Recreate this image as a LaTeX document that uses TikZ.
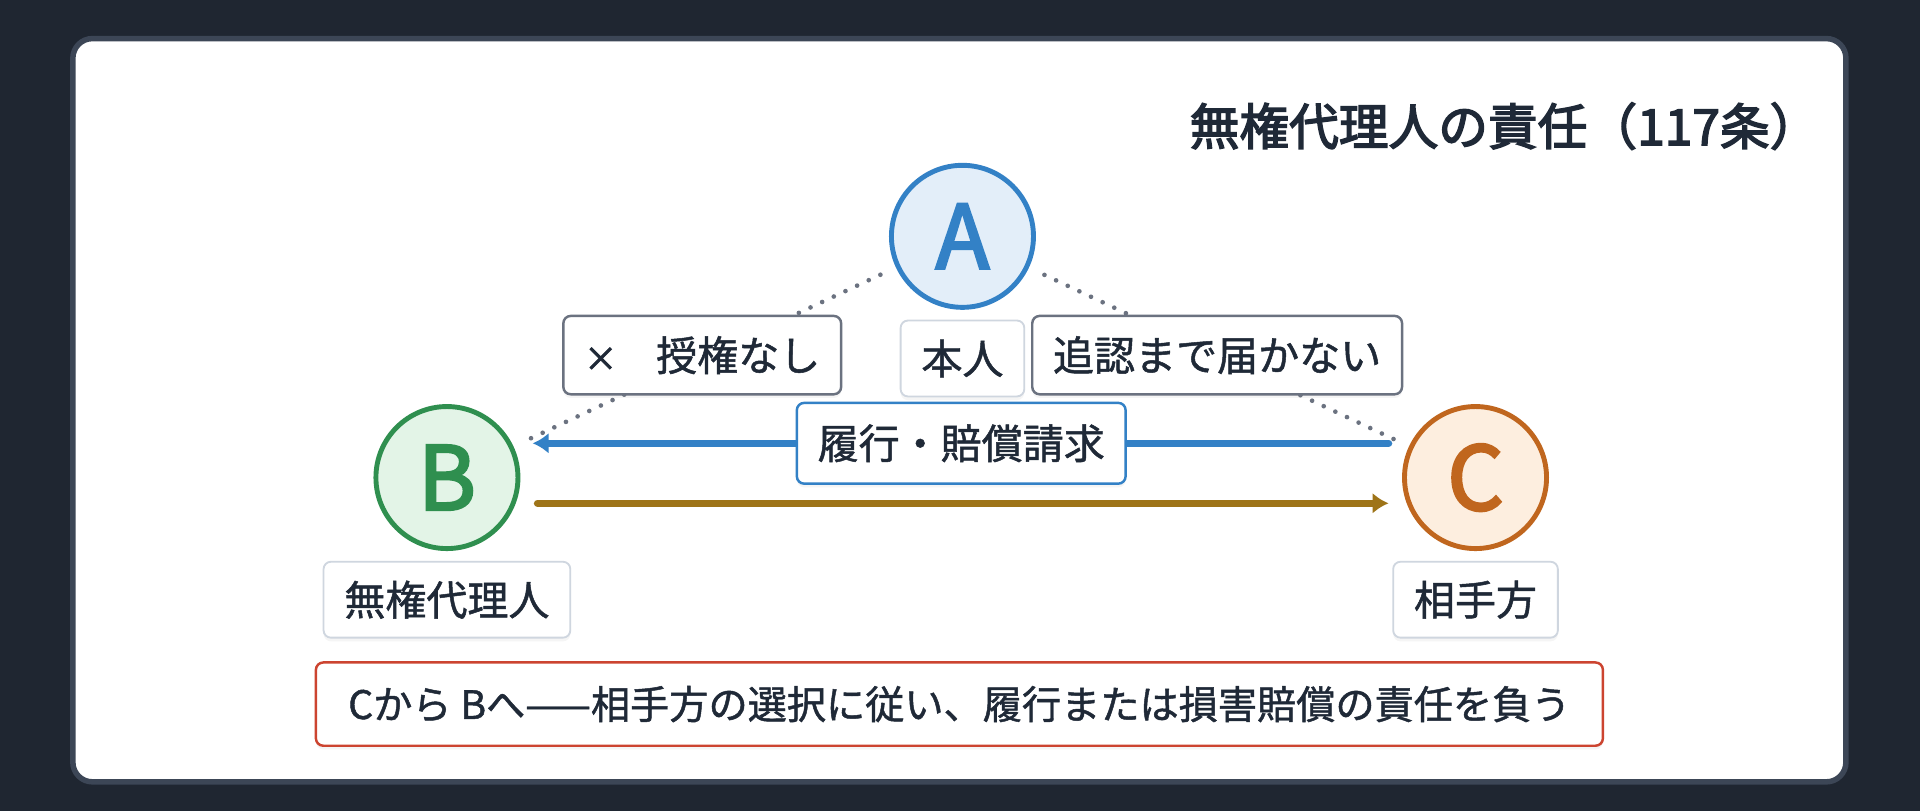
\documentclass[tikz,border=0pt]{standalone}
\usepackage{fontspec}
\setmainfont[FakeBold=1.2]{Noto Sans CJK JP}
\newfontfamily\medfont[FakeBold=3]{Noto Sans CJK JP}
\usepackage{tikz}
\usetikzlibrary{arrows.meta, positioning, shadows}

\definecolor{bgdark}{HTML}{1F2631}
\definecolor{cardline}{HTML}{3C4656}
\definecolor{ink}{HTML}{1F2937}
\definecolor{ablue}{HTML}{3381C6}
\definecolor{afill}{HTML}{E3EEF9}
\definecolor{bgreen}{HTML}{2F8F4F}
\definecolor{bfill}{HTML}{E3F4E7}
\definecolor{corange}{HTML}{C0661E}
\definecolor{cfill}{HTML}{FDEEDF}
\definecolor{brownline}{HTML}{9E7418}
\definecolor{rolegray}{HTML}{CFD6DF}
\definecolor{notegray}{HTML}{6B7280}
\definecolor{sumred}{HTML}{CC4430}

\begin{document}
\begin{tikzpicture}[x=1pt, y=-1pt,
	person/.style={circle, minimum size=116pt, inner sep=0pt, line width=4pt,
		font=\fontsize{72}{72}\medfont},
	role/.style={draw=rolegray, fill=white, line width=1.5pt, rounded corners=6pt,
		minimum height=62pt, inner xsep=17pt, text=ink,
		font=\fontsize{33.5}{40}\selectfont,
		drop shadow={opacity=0.08, shadow xshift=0pt, shadow yshift=-3pt}},
	note/.style={role, draw=notegray, line width=2pt, minimum height=64pt},
	tie/.style={notegray, line width=3.8pt, line cap=round, dash pattern=on 0pt off 10.5pt},
	claim/.style={line width=6pt, line cap=round, -{Latex[length=13pt,width=17pt]}},
]
	\useasboundingbox (0,0) rectangle (1568,662);
	\fill[bgdark] (0,0) rectangle (1568,662);
	\draw[cardline, fill=white, line width=4.5pt, rounded corners=16pt] (59.5,31.5) rectangle (1507.5,638.5);

	\node[anchor=east, inner sep=0pt, text=ink, font=\fontsize{40.6}{44}\medfont] (title) at (1486,103) {無権代理人の責任（117条）};

	\node[person, draw=ablue, fill=afill, text=ablue] (a) at (786,193) {A};
	\node[person, draw=bgreen, fill=bfill, text=bgreen] (b) at (365,390) {B};
	\node[person, draw=corange, fill=cfill, text=corange] (c) at (1205,390) {C};

	\draw[tie, shorten <=14pt, shorten >=13pt] (a) -- (b);
	\draw[tie, shorten <=14pt, shorten >=13pt] (a) -- (c);

	\node[role, below=8pt of a] (ra) {本人};
	\node[role, below=8pt of b] (rb) {無権代理人};
	\node[role, below=8pt of c] (rc) {相手方};

	\node[note] (nab) at (573.5,290) {{\fontsize{27}{30}\medfont ×}\hspace{0.95em}授権なし};
	\node[note] (nac) at (994,290) {追認まで届かない};

	\draw[claim, ablue, shorten <=11pt, shorten >=10pt] ([yshift=28pt]c.west) -- ([yshift=28pt]b.east)
		node[midway, role, draw=ablue, line width=2pt, minimum height=66pt] (req) {履行・賠償請求};
	\draw[claim, brownline, shorten <=14pt, shorten >=11pt] ([yshift=-21pt]b.east) -- ([yshift=-21pt]c.west);

	\node[role, draw=sumred, line width=2pt, minimum height=68pt, minimum width=1051pt,
		font=\fontsize{32}{40}\selectfont] (sum) at (783.5,575)
		{Cから Bへ——相手方の選択に従い、履行または損害賠償の責任を負う};
\end{tikzpicture}
\end{document}
